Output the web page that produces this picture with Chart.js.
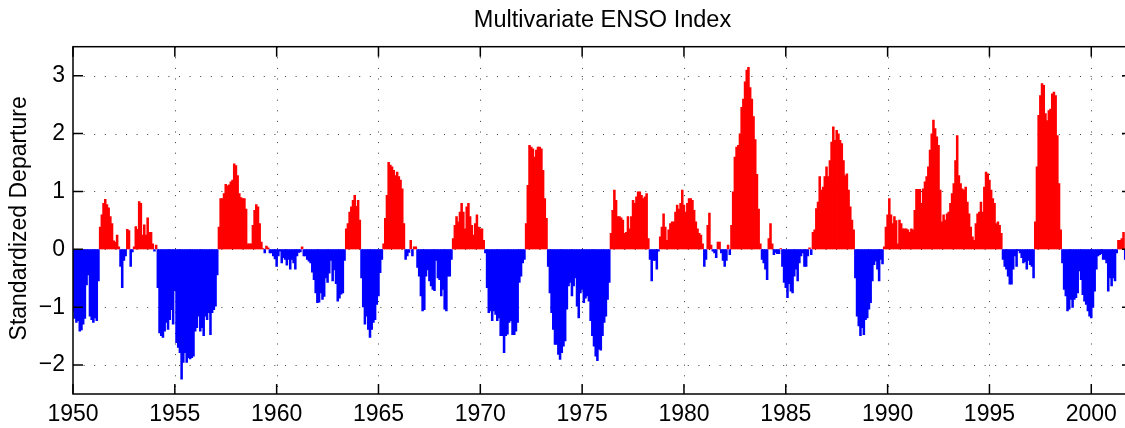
<!DOCTYPE html>
<html>
<head>
<meta charset="UTF-8">
<title>Multivariate ENSO Index</title>
<script src="https://cdn.jsdelivr.net/npm/chart.js@4.4.1/dist/chart.umd.min.js"></script>
<style>
  html, body {
    margin: 0;
    padding: 0;
    background: #ffffff;
    overflow: hidden;
  }
  #chartContainer {
    position: relative;
    width: 1140px;
    height: 428px;
  }
</style>
</head>
<body>
<div id="chartContainer">
  <canvas id="meiChart"></canvas>
</div>

<script>
// Monthly MEI values (standardized departure), one array per decade, starting Jan 1950
const mei1950s = [
  -1.07, -1.2, -1.27, -1.24, -1.42, -1.4, -1.3, -1.2, -0.62, -0.45, -1.16, -1.22,
  -1.27, -1.19, -1.24, -0.55, 0.39, 0.6, 0.8, 0.87, 0.78, 0.72, 0.57, 0.45,
  0.15, 0.13, 0.25, 0.05, -0.3, -0.67, -0.2, -0.12, 0.35, 0.33, -0.3, -0.05,
  0.05, 0.4, 0.35, 0.83, 0.8, 0.25, 0.43, 0.25, 0.55, 0.3, 0.3, 0.1,
  -0.04, 0.08, -0.67, -1.45, -1.5, -1.53, -1.42, -1.27, -1.39, -1.22, -1.05, -1.3,
  -0.72, -1.62, -1.7, -1.79, -2.25, -1.96, -1.79, -1.96, -1.88, -1.9, -1.88, -1.85,
  -1.42, -1.36, -1.16, -1.42, -1.36, -1.5, -1.16, -1.22, -1.1, -1.48, -1.1, -1.05,
  -0.99, -0.45, 0.39, 0.88, 0.88, 0.97, 1.13, 1.1, 1.12, 1.17, 1.2, 1.48,
  1.45, 1.28, 0.97, 0.9, 0.88, 0.88, 0.7, 0.1, 0.1, 0.1, 0.42, 0.68,
  0.78, 0.74, 0.45, 0.13, 0.02, -0.07, 0.06, 0.03, -0.07, -0.07, -0.12, -0.17
];
const mei1960s = [
  -0.3, -0.12, -0.04, -0.24, -0.15, -0.18, -0.28, -0.18, -0.35, -0.18, -0.24, -0.35,
  -0.12, -0.06, -0.05, 0.05, -0.12, -0.12, -0.18, -0.21, -0.24, -0.4, -0.53, -0.76,
  -0.93, -0.92, -0.76, -0.87, -0.82, -0.5, -0.58, -0.42, -0.2, -0.55, -0.36, -0.6,
  -0.9, -0.85, -0.78, -0.76, -0.2, 0.36, 0.45, 0.65, 0.74, 0.85, 0.94, 0.75,
  0.85, 0.51, -0.5, -1.0, -1.3, -1.16, -1.39, -1.53, -1.39, -1.27, -1.22, -0.96,
  -0.81, -0.41, -0.18, 0.1, 0.54, 0.94, 1.51, 1.46, 1.43, 1.37, 1.28, 1.34,
  1.26, 1.2, 1.05, 0.45, -0.18, -0.12, -0.06, 0.16, -0.12, 0.05, 0.05, -0.32,
  -0.47, -0.81, -1.07, -1.05, -0.47, -0.36, -0.55, -0.64, -0.7, -0.72, -0.2, -0.5,
  -0.53, -0.81, -0.7, -1.04, -1.07, -0.47, -0.47, -0.18, 0.19, 0.42, 0.57, 0.48,
  0.65, 0.8, 0.65, 0.36, 0.74, 0.8, 0.57, 0.42, 0.25, 0.45, 0.6, 0.39
];
const mei1970s = [
  0.36, 0.36, 0.16, -0.07, -0.67, -1.1, -1.07, -1.24, -1.07, -1.13, -1.24, -1.19,
  -1.5, -1.5, -1.79, -1.5, -1.47, -1.27, -1.24, -1.48, -1.48, -1.42, -1.27, -0.58,
  -0.47, -0.24, -0.18, 0.45, 1.11, 1.8, 1.77, 1.74, 1.6, 1.72, 1.77, 1.77,
  1.74, 1.37, 0.88, 0.54, -0.3, -0.76, -1.1, -1.39, -1.65, -1.65, -1.82, -1.91,
  -1.79, -1.68, -1.59, -1.04, -0.64, -0.58, -0.81, -0.64, -0.5, -0.99, -1.19, -0.76,
  -0.7, -0.93, -0.85, -0.81, -0.9, -1.24, -1.5, -1.68, -1.85, -1.93, -1.73, -1.75,
  -1.5, -1.27, -1.16, -0.87, -0.58, 0.28, 0.68, 1.03, 0.85, 0.57, 0.57, 0.55,
  0.51, 0.28, 0.3, 0.57, 0.36, 0.57, 0.85, 0.8, 0.91, 1.0, 1.0, 0.94,
  0.88, 0.91, 0.97, 0.19, -0.18, -0.55, -0.2, -0.2, -0.35, -0.04, 0.22, 0.39,
  0.62, 0.39, 0.16, 0.34, 0.45, 0.48, 0.48, 0.65, 0.77, 0.7, 0.8, 1.03
];
const mei1980s = [
  0.77, 0.65, 0.8, 0.88, 0.88, 0.85, 0.68, 0.48, 0.36, 0.28, 0.25, 0.1,
  -0.3, -0.18, 0.42, 0.63, 0.08, -0.04, -0.07, -0.15, 0.13, 0.13, -0.07, -0.2,
  -0.3, -0.2, 0.08, -0.1, 0.42, 1.0, 1.6, 1.77, 1.8, 2.0, 2.46, 2.6,
  2.9, 3.1, 3.15, 2.8, 2.6, 2.3, 1.9, 1.3, 0.7, 0.1, -0.18, -0.24,
  -0.35, -0.53, 0.19, 0.45, 0.1, -0.1, -0.06, -0.08, -0.08, 0.02, -0.3, -0.58,
  -0.67, -0.84, -0.6, -0.73, -0.76, -0.47, -0.35, -0.55, -0.24, -0.12, -0.07, -0.3,
  -0.3, -0.12, 0.03, -0.1, 0.3, 0.34, 0.71, 0.82, 1.26, 1.03, 1.08, 1.26,
  1.43, 1.26, 1.54, 1.86, 2.12, 1.89, 2.06, 2.0, 1.89, 1.83, 1.54, 1.28,
  1.31, 1.03, 0.74, 0.51, 0.34, -0.5, -1.16, -1.33, -1.5, -1.36, -1.48, -1.22,
  -1.19, -1.04, -0.93, -0.55, -0.27, -0.21, -0.35, -0.55, -0.18, -0.26, 0.05, 0.39
];
const mei1990s = [
  0.6, 0.88, 0.6, 0.45, 0.57, 0.5, 0.1, 0.51, 0.45, 0.36, 0.36, 0.36,
  0.34, 0.3, 0.36, 0.34, 0.68, 1.04, 1.04, 1.04, 0.8, 1.05, 1.17, 1.26,
  1.43, 1.72, 2.0, 2.24, 2.09, 1.95, 1.8, 1.03, 0.48, 0.6, 0.51, 0.62,
  0.65, 0.8, 0.97, 1.14, 1.54, 1.97, 1.28, 1.14, 1.05, 1.03, 1.08, 0.82,
  0.62, 0.39, 0.22, 0.16, 0.45, 0.62, 0.65, 0.82, 0.65, 1.08, 1.34, 1.31,
  1.2, 1.03, 0.88, 0.8, 0.45, 0.48, 0.42, 0.28, -0.18, -0.3, -0.35, -0.47,
  -0.61, -0.61, -0.35, -0.12, -0.3, -0.03, -0.07, -0.15, -0.24, -0.22, -0.35, -0.2,
  -0.27, -0.3, -0.5, 0.48, 1.43, 2.32, 2.66, 2.87, 2.84, 2.35, 2.23, 2.4,
  2.43, 2.69, 2.72, 2.66, 1.97, 1.14, 0.34, -0.24, -0.7, -0.81, -1.07, -1.04,
  -0.87, -1.01, -0.87, -0.84, -0.76, -0.38, -0.53, -0.79, -0.9, -0.96, -1.07, -1.16
];
const mei2000s = [
  -1.19, -1.01, -0.73, -0.35, -0.12, -0.1, -0.08, -0.18, -0.18, -0.24, -0.73, -0.5,
  -0.64, -0.5, -0.55, -0.07, 0.16, 0.16, 0.19, 0.3, -0.18
];

const startYear = 1950;
const xRange = [1950, 2002];
const yRange = [-2.5, 3.5];
const xTickLabels = [1950, 1955, 1960, 1965, 1970, 1975, 1980, 1985, 1990, 1995, 2000];
const yTickLabels = [-2, -1, 0, 1, 2, 3];

const chartTitle = 'Multivariate ENSO Index';
const yAxisTitle = 'Standardized Departure';
const fontFamily = '"Liberation Sans", Arial, Helvetica, sans-serif';

const meiValues = [].concat(mei1950s, mei1960s, mei1970s, mei1980s, mei1990s, mei2000s);
const meiPoints = meiValues.map((v, i) => ({ x: startYear + i / 12, y: v }));
const barColors = meiValues.map(v => (v >= 0 ? '#ff0000' : '#0000ff'));

// Dotted grid, box with inward ticks and the two titles, MATLAB style
const matlabAxes = {
  id: 'matlabAxes',
  beforeDatasetsDraw(chart) {
    const { ctx, chartArea: a, scales: { x, y } } = chart;
    ctx.save();
    ctx.strokeStyle = '#3a3a3a';
    ctx.lineWidth = 1;
    ctx.setLineDash([1, 9.6]);
    xTickLabels.forEach(t => {
      if (t === xRange[0]) return;
      const px = Math.round(x.getPixelForValue(t)) + 0.5;
      ctx.beginPath();
      ctx.moveTo(px, a.top);
      ctx.lineTo(px, a.bottom);
      ctx.stroke();
    });
    yTickLabels.forEach(t => {
      const py = Math.round(y.getPixelForValue(t)) + 0.5;
      ctx.beginPath();
      ctx.moveTo(a.left, py);
      ctx.lineTo(a.right, py);
      ctx.stroke();
    });
    ctx.restore();
  },
  afterDatasetsDraw(chart) {
    const { ctx, chartArea: a, scales: { x, y } } = chart;
    const tickLen = 10;
    ctx.save();
    ctx.strokeStyle = '#000000';
    ctx.lineWidth = 1.5;
    ctx.setLineDash([]);
    ctx.strokeRect(a.left, a.top, a.right - a.left, a.bottom - a.top);
    ctx.beginPath();
    xTickLabels.forEach(t => {
      const px = x.getPixelForValue(t);
      ctx.moveTo(px, a.bottom);
      ctx.lineTo(px, a.bottom - tickLen);
      ctx.moveTo(px, a.top);
      ctx.lineTo(px, a.top + tickLen);
    });
    yTickLabels.forEach(t => {
      const py = y.getPixelForValue(t);
      ctx.moveTo(a.left, py);
      ctx.lineTo(a.left + tickLen, py);
      ctx.moveTo(a.right, py);
      ctx.lineTo(a.right - tickLen, py);
    });
    ctx.stroke();
    ctx.restore();
  },
  afterDraw(chart) {
    const { ctx, chartArea: a } = chart;
    ctx.save();
    ctx.fillStyle = '#000000';
    ctx.font = '23.5px ' + fontFamily;
    ctx.textAlign = 'center';
    ctx.textBaseline = 'middle';
    ctx.fillText(chartTitle, (a.left + a.right) / 2, 21);
    ctx.translate(20, (a.top + a.bottom) / 2 - 2);
    ctx.rotate(-Math.PI / 2);
    ctx.font = '23px ' + fontFamily;
    ctx.fillText(yAxisTitle, 0, 0);
    ctx.restore();
  }
};

const ctx = document.getElementById('meiChart').getContext('2d');
new Chart(ctx, {
  type: 'bar',
  data: {
    datasets: [{
      label: 'MEI',
      data: meiPoints,
      backgroundColor: barColors,
      borderWidth: 0,
      // bars overlap a little so anti-aliasing leaves no white seams
      barPercentage: 1.5,
      categoryPercentage: 1.0,
      inflateAmount: 0
    }]
  },
  options: {
    responsive: true,
    maintainAspectRatio: false,
    animation: false,
    layout: {
      padding: { top: 46.7, right: 8, bottom: 0, left: 0 }
    },
    plugins: {
      legend: { display: false },
      tooltip: { enabled: false },
      title: { display: false }
    },
    scales: {
      x: {
        type: 'linear',
        min: xRange[0],
        max: xRange[1],
        offset: false,
        grid: { display: false, drawTicks: false },
        border: { display: false },
        afterBuildTicks: s => { s.ticks = xTickLabels.map(v => ({ value: v })); },
        afterFit: s => { s.height = 34; },
        ticks: {
          color: '#000000',
          padding: 7,
          maxRotation: 0,
          autoSkip: false,
          font: { family: fontFamily, size: 23 },
          callback: v => String(v)
        }
      },
      y: {
        type: 'linear',
        min: yRange[0],
        max: yRange[1],
        grid: { display: false, drawTicks: false },
        border: { display: false },
        afterBuildTicks: s => { s.ticks = yTickLabels.map(v => ({ value: v })); },
        afterFit: s => { s.width = 73; },
        ticks: {
          color: '#000000',
          padding: 8,
          font: { family: fontFamily, size: 23 },
          callback: v => (v < 0 ? '\u2212' + Math.abs(v) : String(v))
        }
      }
    }
  },
  plugins: [matlabAxes]
});
</script>
</body>
</html>
